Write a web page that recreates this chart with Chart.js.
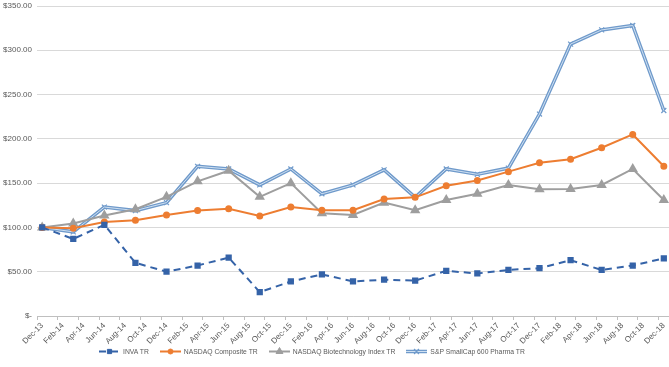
<!DOCTYPE html>
<html>
<head>
<meta charset="utf-8">
<script src="https://cdn.jsdelivr.net/npm/chart.js@4.4.0/dist/chart.umd.min.js"></script>
<style>
html, body { margin: 0; padding: 0; background: #fff; overflow: hidden; }
#wrap { position: relative; width: 669px; height: 367px; overflow: hidden; }
#legend {
  position: absolute; left: 99px; top: 347px;
  display: flex; align-items: center;
  font: 6.8px 'Liberation Sans', Arial, sans-serif; color: #595959; white-space: nowrap;
}
.item { display: flex; align-items: center; margin-right: 11px; }
.item canvas { margin-right: 3px; }
</style>
</head>
<body>
<div id="wrap">
  <!-- a little wider than the window: the plot's right edge then sits on the window edge -->
  <canvas id="chart" width="675" height="367"></canvas>
  <div id="legend"></div>
</div>
<script>
// monthly category axis, labels shown every 2nd month
const months = [
  'Dec-13',
  'Jan-14','Feb-14','Mar-14','Apr-14','May-14','Jun-14','Jul-14','Aug-14','Sep-14','Oct-14','Nov-14','Dec-14',
  'Jan-15','Feb-15','Mar-15','Apr-15','May-15','Jun-15','Jul-15','Aug-15','Sep-15','Oct-15','Nov-15','Dec-15',
  'Jan-16','Feb-16','Mar-16','Apr-16','May-16','Jun-16','Jul-16','Aug-16','Sep-16','Oct-16','Nov-16','Dec-16',
  'Jan-17','Feb-17','Mar-17','Apr-17','May-17','Jun-17','Jul-17','Aug-17','Sep-17','Oct-17','Nov-17','Dec-17',
  'Jan-18','Feb-18','Mar-18','Apr-18','May-18','Jun-18','Jul-18','Aug-18','Sep-18','Oct-18','Nov-18','Dec-18'
];

// quarterly observations
const quarters = [
  'Dec-13','Mar-14','Jun-14','Sep-14','Dec-14','Mar-15','Jun-15','Sep-15','Dec-15','Mar-16','Jun-16',
  'Sep-16','Dec-16','Mar-17','Jun-17','Sep-17','Dec-17','Mar-18','Jun-18','Sep-18','Dec-18'
];
const invaTR      = [100, 87, 103, 60, 50, 57, 66, 27, 39, 47, 39, 41, 40, 51, 48, 52, 54, 63, 52, 57, 65];
const nasdaqTR    = [100, 99, 106, 108, 114, 119, 121, 113, 123, 119.5, 119.5, 132, 134, 147, 153, 163, 173, 177, 190, 205, 169];
const biotechTR   = [100, 104.5, 113.5, 120.5, 134.5, 152, 164, 134.5, 150, 116, 114, 128, 119.5, 131, 138, 148, 143, 143.5, 148, 166, 131];
const smallcapTR  = [100, 95, 123, 119, 128, 169, 166, 148, 166, 138, 148, 165, 134, 166, 160, 167, 228, 307, 323, 328, 232];

const yTicks = [0, 50, 100, 150, 200, 250, 300, 350];

const FONT = "'Liberation Sans', Arial, sans-serif";
const TEXT = '#595959';

function pts(values) {
  return values.map((v, i) => ({ x: quarters[i], y: v }));
}

const series = [
  { label: 'INVA TR', data: pts(invaTR), borderColor: '#3563a8', backgroundColor: '#3563a8',
    borderWidth: 2, borderDash: [7, 5], pointStyle: 'rect', pointRadius: 3, order: 0 },
  { label: 'NASDAQ Composite TR', data: pts(nasdaqTR), borderColor: '#ed7d31', backgroundColor: '#ed7d31',
    borderWidth: 2, pointStyle: 'circle', pointRadius: 2.5, order: 1 },
  { label: 'NASDAQ Biotechnology Index TR', data: pts(biotechTR), borderColor: '#9e9e9e', backgroundColor: '#9e9e9e',
    borderWidth: 2, pointStyle: 'triangle', pointRadius: 4, order: 2 },
  { label: 'S&P SmallCap 600 Pharma TR', data: pts(smallcapTR), borderColor: '#6f9acb', backgroundColor: '#6f9acb',
    borderWidth: 3.5, pointStyle: 'crossRot', pointRadius: 3.5, pointBorderWidth: 1.2, order: 4 },
  // light centre stroke of the double line
  { label: '', data: pts(smallcapTR), borderColor: '#cfe0f1', borderWidth: 1,
    pointRadius: 0, order: 3, inner: true }
];

series.forEach(s => { s.fill = false; s.tension = 0; s.pointBorderColor = s.borderColor; });

new Chart(document.getElementById('chart'), {
  type: 'line',
  data: { labels: months, datasets: series },
  options: {
    responsive: false,
    animation: false,
    layout: { padding: { top: 5, right: 0, bottom: 20, left: 0 } },
    plugins: { legend: { display: false }, tooltip: { enabled: false } },
    scales: {
      x: {
        type: 'category',
        offset: true,
        afterFit: s => { s.height = 31; s.paddingLeft = 0; s.paddingRight = 0; },
        grid: {
          offset: true,
          drawOnChartArea: false,
          tickLength: 4,
          color: c => (c.index % 2 === 0 ? '#bfbfbf' : 'rgba(0,0,0,0)')
        },
        border: { color: '#bfbfbf' },
        ticks: {
          autoSkip: false, minRotation: 45, maxRotation: 45, padding: 1,
          font: { family: FONT, size: 8 }, color: TEXT,
          callback: (v, i) => (i % 2 === 0 ? months[i] : '')
        }
      },
      y: {
        min: yTicks[0], max: yTicks[yTicks.length - 1],
        afterFit: s => { s.width = 37; s.paddingTop = 0; s.paddingBottom = 0; },
        afterBuildTicks: s => { s.ticks = yTicks.map(v => ({ value: v })); },
        grid: { color: '#d9d9d9', drawTicks: false },
        border: { display: false },
        ticks: {
          padding: 5, font: { family: FONT, size: 8 }, color: TEXT,
          callback: v => (v === 0 ? '$-' : '$' + v.toFixed(2))
        }
      }
    }
  }
});

// legend
function swatch(ds, inner) {
  const cv = document.createElement('canvas');
  cv.width = 21; cv.height = 9;
  const ctx = cv.getContext('2d');
  ctx.strokeStyle = ds.borderColor;
  ctx.lineWidth = ds.borderWidth;
  ctx.setLineDash(ds.borderDash || []);
  ctx.beginPath(); ctx.moveTo(0, 4.5); ctx.lineTo(21, 4.5); ctx.stroke();
  if (inner) {
    ctx.strokeStyle = inner.borderColor; ctx.lineWidth = inner.borderWidth;
    ctx.beginPath(); ctx.moveTo(0, 4.5); ctx.lineTo(21, 4.5); ctx.stroke();
  }
  ctx.setLineDash([]);
  ctx.fillStyle = ds.backgroundColor;
  ctx.strokeStyle = ds.borderColor;
  ctx.lineWidth = ds.pointBorderWidth || 1;
  Chart.helpers.drawPoint(ctx, { pointStyle: ds.pointStyle, radius: ds.pointRadius, rotation: 0,
    borderWidth: ds.pointBorderWidth || 1 }, 10.5, 4.5);
  return cv;
}

const legend = document.getElementById('legend');
series.filter(s => !s.inner).forEach(s => {
  const item = document.createElement('div');
  item.className = 'item';
  item.appendChild(swatch(s, s.pointStyle === 'crossRot' ? series[4] : null));
  const t = document.createElement('span');
  t.textContent = s.label;
  item.appendChild(t);
  legend.appendChild(item);
});
</script>
</body>
</html>
